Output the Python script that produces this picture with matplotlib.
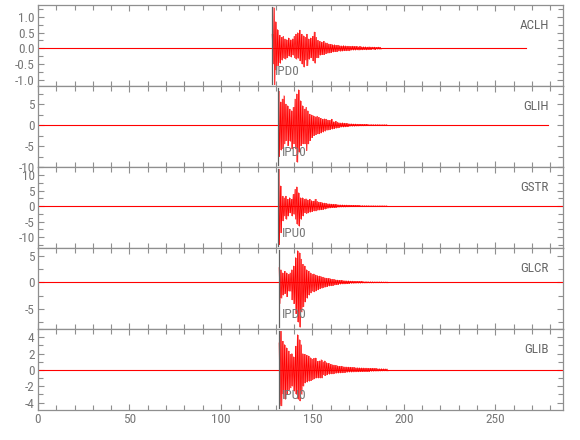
import numpy as np
import matplotlib
matplotlib.use("Agg")
import matplotlib.pyplot as plt
from matplotlib.ticker import MultipleLocator, FormatStrFormatter
import matplotlib.transforms as mtransforms

plt.rcParams['font.family'] = ['Roboto Condensed', 'DejaVu Sans Condensed',
                               'Liberation Sans Narrow', 'DejaVu Sans']
plt.rcParams['axes.unicode_minus'] = False

# ---------------- data ----------------
stations = ["ACLH", "GLIH", "GSTR", "GLCR", "GLIB"]
pick_labels = ["IPD0", "IPD0", "IPU0", "IPD0", "IPU0"]
pick_times = [127.7, 131.4, 131.4, 131.5, 131.6]
onset_times = [128.0, 131.5, 131.5, 131.8, 131.8]
trace_ends = [266.6, 278.6, 287.0, 287.0, 287.0]

# positive / negative peak amplitudes, one pair per second after onset
hi1 = [0.45, 1.30, 0.85, 0.60, 0.42, 0.35, 0.38, 0.30, 0.28, 0.33,
       0.27, 0.30, 0.38, 0.45, 0.50, 0.58, 0.45, 0.40, 0.35, 0.45,
       0.30, 0.33, 0.38, 0.52, 0.35, 0.25, 0.22, 0.20, 0.22, 0.18,
       0.17, 0.14, 0.13, 0.12, 0.12, 0.10, 0.10, 0.09, 0.08, 0.09,
       0.08, 0.07, 0.07, 0.06, 0.07, 0.06, 0.06, 0.05, 0.06, 0.05,
       0.05, 0.05, 0.04, 0.05, 0.04, 0.04, 0.04, 0.03, 0.04, 0.03]
lo1 = [-0.50, -1.16, -0.70, -0.55, -0.48, -0.38, -0.32, -0.35, -0.30, -0.25,
       -0.28, -0.22, -0.30, -0.35, -0.32, -0.40, -0.50, -0.60, -0.38, -0.55,
       -0.35, -0.30, -0.40, -0.48, -0.30, -0.30, -0.22, -0.20, -0.20, -0.17,
       -0.16, -0.15, -0.14, -0.12, -0.11, -0.11, -0.09, -0.10, -0.09, -0.08,
       -0.08, -0.07, -0.08, -0.06, -0.06, -0.06, -0.05, -0.06, -0.05, -0.05,
       -0.04, -0.05, -0.04, -0.04, -0.04, -0.03, -0.04, -0.03, -0.03, -0.03]

hi2 = [8.2, 5.5, 6.2, 7.0, 5.0, 4.6, 3.8, 3.4, 4.2, 6.2,
       7.4, 8.4, 5.8, 4.6, 3.8, 4.2, 3.4, 2.6, 2.4, 2.2,
       2.0, 2.1, 1.8, 1.6, 1.4, 1.5, 1.4, 1.2, 1.1, 1.4,
       0.8, 0.9, 0.7, 0.6, 0.5, 0.55, 0.45, 0.4, 0.35, 0.3,
       0.3, 0.25, 0.25, 0.2, 0.2, 0.18, 0.15, 0.15, 0.15, 0.12,
       0.12, 0.12, 0.1, 0.1, 0.1, 0.1, 0.08, 0.08, 0.08, 0.08]
lo2 = [-7.5, -6.0, -5.7, -4.5, -3.7, -4.9, -3.9, -5.7, -4.5, -5.7,
       -8.9, -6.5, -4.9, -4.5, -4.5, -6.1, -4.5, -3.7, -3.0, -2.5,
       -2.3, -2.1, -2.1, -1.9, -1.7, -1.5, -1.3, -1.2, -1.1, -1.0,
       -0.9, -0.8, -0.7, -0.6, -0.5, -0.5, -0.45, -0.4, -0.35, -0.3,
       -0.3, -0.3, -0.25, -0.25, -0.2, -0.2, -0.2, -0.18, -0.15, -0.15,
       -0.12, -0.12, -0.12, -0.1, -0.1, -0.1, -0.1, -0.08, -0.08, -0.08]

hi3 = [11.8, 6.5, 3.2, 2.7, 3.2, 2.2, 2.7, 2.2, 3.8, 5.4,
       6.2, 4.3, 2.7, 2.7, 2.2, 2.4, 2.0, 2.2, 1.8, 1.6,
       2.2, 1.5, 1.3, 1.2, 1.1, 1.0, 0.9, 0.8, 0.75, 0.65,
       0.6, 0.55, 0.5, 0.45, 0.4, 0.4, 0.35, 0.35, 0.3, 0.3,
       0.25, 0.25, 0.22, 0.2, 0.2, 0.18, 0.18, 0.15, 0.15, 0.15,
       0.12, 0.12, 0.12, 0.1, 0.1, 0.1, 0.1, 0.1, 0.08, 0.08]
lo3 = [-12.4, -8.6, -4.8, -3.2, -4.3, -3.2, -2.2, -3.2, -2.7, -4.3,
       -5.9, -6.5, -4.3, -3.2, -2.2, -2.4, -2.2, -2.0, -1.8, -1.6,
       -1.6, -1.4, -1.3, -1.2, -1.1, -1.0, -0.8, -0.7, -0.6, -0.5,
       -0.5, -0.45, -0.4, -0.35, -0.3, -0.3, -0.3, -0.25, -0.25, -0.2,
       -0.2, -0.2, -0.18, -0.18, -0.15, -0.15, -0.15, -0.12, -0.12, -0.12,
       -0.1, -0.1, -0.1, -0.1, -0.1, -0.08, -0.08, -0.08, -0.08, -0.08]

hi4 = [2.8, 2.4, 1.8, 2.1, 1.8, 1.5, 1.8, 2.4, 3.1, 4.7,
       6.0, 5.6, 4.4, 3.4, 3.1, 2.4, 2.1, 1.8, 1.5, 1.6,
       1.4, 1.3, 1.2, 1.1, 1.0, 0.9, 0.8, 0.75, 0.7, 0.6,
       0.55, 0.5, 0.45, 0.4, 0.4, 0.35, 0.35, 0.3, 0.3, 0.25,
       0.25, 0.22, 0.2, 0.2, 0.18, 0.18, 0.15, 0.15, 0.15, 0.12,
       0.12, 0.12, 0.1, 0.1, 0.1, 0.1, 0.1, 0.08, 0.08, 0.08]
lo4 = [-4.0, -3.0, -2.4, -2.1, -2.7, -1.7, -1.7, -3.3, -4.0, -5.9,
       -7.5, -8.5, -5.6, -4.6, -3.7, -3.0, -2.4, -2.0, -1.7, -1.8,
       -1.6, -1.4, -1.2, -1.1, -1.0, -0.9, -0.8, -0.7, -0.65, -0.6,
       -0.5, -0.45, -0.4, -0.35, -0.3, -0.3, -0.28, -0.25, -0.22, -0.2,
       -0.2, -0.18, -0.15, -0.15, -0.15, -0.12, -0.12, -0.12, -0.1, -0.1,
       -0.1, -0.1, -0.08, -0.08, -0.08, -0.08, -0.08, -0.08, -0.08, -0.08]

hi5 = [3.3, 4.7, 3.5, 3.1, 2.7, 2.3, 1.9, 2.0, 1.6, 2.9,
       4.3, 3.7, 3.1, 2.0, 1.9, 1.8, 1.7, 1.5, 1.3, 1.4,
       1.45, 1.05, 1.1, 1.25, 1.0, 1.1, 0.9, 0.8, 0.7, 0.65,
       0.6, 0.55, 0.5, 0.45, 0.45, 0.4, 0.38, 0.36, 0.35, 0.33,
       0.3, 0.3, 0.28, 0.28, 0.26, 0.25, 0.24, 0.22, 0.22, 0.2,
       0.2, 0.2, 0.18, 0.18, 0.16, 0.15, 0.15, 0.14, 0.13, 0.12]
lo5 = [-4.2, -4.4, -3.0, -3.6, -3.0, -2.4, -2.2, -2.0, -2.6, -3.0,
       -3.6, -3.8, -3.0, -2.0, -1.6, -1.5, -1.4, -1.3, -1.2, -1.1,
       -1.0, -1.0, -1.0, -1.0, -0.6, -0.7, -0.6, -0.55, -0.5, -0.5,
       -0.45, -0.42, -0.4, -0.38, -0.36, -0.34, -0.32, -0.3, -0.28, -0.28,
       -0.26, -0.25, -0.24, -0.24, -0.22, -0.22, -0.2, -0.2, -0.2, -0.2,
       -0.18, -0.18, -0.16, -0.16, -0.15, -0.14, -0.13, -0.12, -0.12, -0.12]

highs = [hi1, hi2, hi3, hi4, hi5]
lows = [lo1, lo2, lo3, lo4, lo5]

ylims = [(-1.2, 1.38), (-10.0, 9.3), (-13.5, 12.6), (-8.8, 6.5), (-4.9, 5.0)]
y_major = [0.5, 5, 5, 5, 2]
y_minor = [0.25, 2.5, 2.5, 2.5, 1]
y_fmt = ['%.1f', '%d', '%d', '%d', '%d']

# ---------------- drawing ----------------
RED = '#ff0000'
AXC = '#8f8f8f'
TXC = '#777777'

fig = plt.figure(figsize=(5.8, 4.4), dpi=100)
axes = fig.subplots(5, 1, sharex=True, gridspec_kw=dict(hspace=0))
fig.subplots_adjust(left=0.0655, right=0.9707, top=0.9886, bottom=0.0682)

for i, ax in enumerate(axes):
    t0 = onset_times[i]
    hi = np.asarray(highs[i])
    lo = np.asarray(lows[i])
    n = len(hi)
    t = t0 + np.arange(n)
    xs = np.empty(2 * n)
    ys = np.empty(2 * n)
    xs[0::2] = t
    xs[1::2] = t + 0.5
    ys[0::2] = hi
    ys[1::2] = lo
    ax.plot([0, trace_ends[i]], [0, 0], color=RED, lw=0.8, zorder=2)
    ax.fill_between(t + 0.25, hi, lo, step='mid', color=RED, alpha=0.55,
                    lw=0, zorder=2)
    ax.plot(xs, ys, color=RED, lw=0.5, zorder=3)

    ax.axvline(pick_times[i], ymin=0.03, ymax=0.97, color='#606060', lw=0.9, zorder=4)
    trans = mtransforms.blended_transform_factory(ax.transData, ax.transAxes)
    ax.text(pick_times[i] + 1.8, 0.18, pick_labels[i], transform=trans,
            ha='left', va='center', fontsize=9.5, color=TXC, zorder=5)
    ax.text(0.973, 0.75, stations[i], transform=ax.transAxes,
            ha='right', va='center', fontsize=9.5, color='#666666')

    ax.set_xlim(0, 287)
    ax.set_ylim(*ylims[i])
    ax.yaxis.set_major_locator(MultipleLocator(y_major[i]))
    ax.yaxis.set_minor_locator(MultipleLocator(y_minor[i]))
    ax.yaxis.set_major_formatter(FormatStrFormatter(y_fmt[i]))
    ax.xaxis.set_major_locator(MultipleLocator(50))
    ax.xaxis.set_minor_locator(MultipleLocator(10))
    ax.tick_params(which='both', direction='in', top=True, right=True,
                   color=AXC, labelcolor=TXC, labelsize=9.5, width=0.8, pad=2.5)
    ax.tick_params(which='major', length=4.5)
    ax.tick_params(which='minor', length=3.5)
    for sp in ax.spines.values():
        sp.set_color(AXC)
        sp.set_linewidth(0.9)

fig.savefig('out.png', dpi=100)
